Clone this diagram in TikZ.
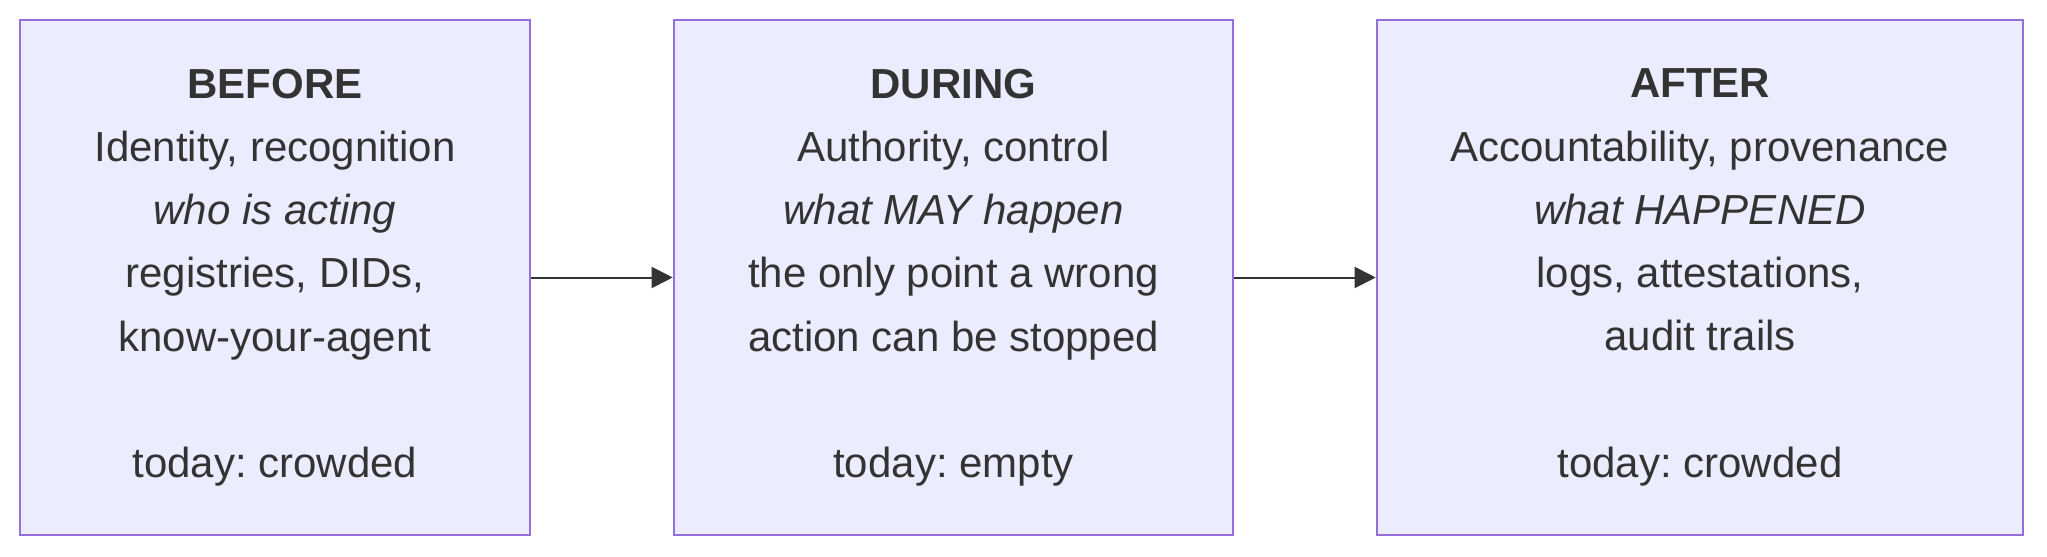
\documentclass[tikz,border=0pt]{standalone}
\usepackage{fontspec}
\setmainfont{Liberation Sans}
\usetikzlibrary{arrows.meta}
\definecolor{boxfill}{HTML}{ECECFF}
\definecolor{boxline}{HTML}{9370DB}
\definecolor{ink}{HTML}{333333}
\frenchspacing
\begin{document}
\begin{tikzpicture}[x=0.5pt,y=-0.5pt,
  stage/.style={draw=boxline, fill=boxfill, line width=1.3pt, align=center, text=ink,
    font=\fontsize{21}{31.6}\selectfont, inner sep=0pt, minimum height=257.5pt},
  flow/.style={draw=ink, line width=1pt, -{Triangle[length=10.5pt,width=10.5pt]}}]
\useasboundingbox (0,0) rectangle (2047,557);
\node[stage, minimum width=255pt] (before) at (275,277.5)
  {\textbf{BEFORE}\\Identity, recognition\\\textit{who is acting}\\registries, DIDs,\\know-your-agent\\\mbox{}\\today: crowded};
\node[stage, minimum width=279.5pt] (during) at (953.5,277.5)
  {\textbf{DURING}\\Authority, control\\\textit{what MAY happen}\\the only point a wrong\\action can be stopped\\\mbox{}\\today: empty};
\node[stage, minimum width=323pt] (after) at (1700,277.5)
  {\textbf{AFTER}\\Accountability, provenance\\\textit{what HAPPENED}\\logs, attestations,\\audit trails\\\mbox{}\\today: crowded};
\draw[flow] (before) -- (during);
\draw[flow] (during) -- (after);
\end{tikzpicture}
\end{document}
